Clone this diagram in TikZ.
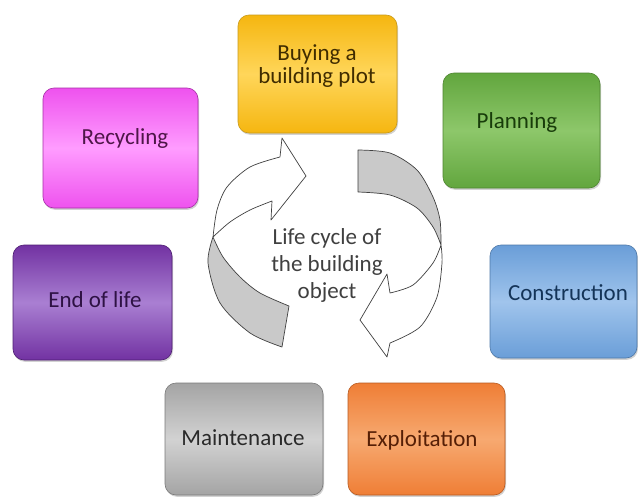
\documentclass[tikz,border=0pt]{standalone}
\usepackage{fontspec}
\setmainfont{Carlito}
\usetikzlibrary{shadows}
\definecolor{ytop}{HTML}{F5B610}\definecolor{ymid}{HTML}{FFD65A}\definecolor{ydark}{HTML}{C99A1A}\definecolor{ytxt}{HTML}{402C00}
\definecolor{gtop}{HTML}{62A63E}\definecolor{gmid}{HTML}{8DC76A}\definecolor{gdark}{HTML}{4E8530}\definecolor{gtxt}{HTML}{183C0A}
\definecolor{btop}{HTML}{6A9ED8}\definecolor{bmid}{HTML}{A0C4EC}\definecolor{bdark}{HTML}{4D78A8}\definecolor{btxt}{HTML}{143458}
\definecolor{otop}{HTML}{EF7E36}\definecolor{omid}{HTML}{F7A970}\definecolor{odark}{HTML}{B85A20}\definecolor{otxt}{HTML}{561F06}
\definecolor{mtop}{HTML}{A4A4A4}\definecolor{mmid}{HTML}{D2D2D2}\definecolor{mdark}{HTML}{7A7A7A}\definecolor{mtxt}{HTML}{2A2A2A}
\definecolor{ptop}{HTML}{7232A2}\definecolor{pmid}{HTML}{A97FD2}\definecolor{pdark}{HTML}{4E1E72}\definecolor{ptxt}{HTML}{2E1244}
\definecolor{rtop}{HTML}{EE52EE}\definecolor{rmid}{HTML}{FF9CFF}\definecolor{rdark}{HTML}{A52FA5}\definecolor{rtxt}{HTML}{4E1648}
\definecolor{arrgray}{HTML}{C9C9C9}\definecolor{arrline}{HTML}{404040}\definecolor{ctxt}{HTML}{404040}
\tikzset{
  cbox/.style={rectangle, rounded corners=11pt, line width=0.6pt,
    drop shadow={shadow xshift=1pt, shadow yshift=-1.8pt, opacity=0.35}},
  ybox/.style={cbox, top color=ytop, bottom color=ytop, middle color=ymid, draw=ydark},
  gbox/.style={cbox, top color=gtop, bottom color=gtop, middle color=gmid, draw=gdark},
  bbox/.style={cbox, top color=btop, bottom color=btop, middle color=bmid, draw=bdark},
  obox/.style={cbox, top color=otop, bottom color=otop, middle color=omid, draw=odark},
  mbox/.style={cbox, top color=mtop, bottom color=mtop, middle color=mmid, draw=mdark},
  pbox/.style={cbox, top color=ptop, bottom color=ptop, middle color=pmid, draw=pdark},
  rbox/.style={cbox, top color=rtop, bottom color=rtop, middle color=rmid, draw=rdark},
  btext/.style={align=center, font=\fontsize{23}{23}\selectfont, inner sep=0pt},
  arrw/.style={draw=arrline, line width=0.7pt, line join=round}
}
\begin{document}
\begin{tikzpicture}[x=1pt,y=-1pt]
\useasboundingbox[fill=white] (0,0) rectangle (638,498);
% boxes
\node[ybox, minimum width=159pt, minimum height=118pt] (buybox) at (317.5,74) {};
\node[gbox, minimum width=157pt, minimum height=115pt] (planbox) at (521.5,130.5) {};
\node[bbox, minimum width=147pt, minimum height=113pt] (consbox) at (563.5,301.5) {};
\node[obox, minimum width=157pt, minimum height=112pt] (explbox) at (426.5,439) {};
\node[mbox, minimum width=158pt, minimum height=112pt] (maintbox) at (244,439) {};
\node[pbox, minimum width=159pt, minimum height=115pt] (endbox) at (92.5,302.5) {};
\node[rbox, minimum width=155pt, minimum height=120pt] (recbox) at (120.5,148) {};
% texts
\node[btext, text=ytxt] (buy) at (317,66) {Buying a\\building plot};
\node[btext, text=gtxt] (plan) at (517,122) {Planning};
\node[btext, text=btxt] (cons) at (568,293) {Construction};
\node[btext, text=otxt] (expl) at (422,440) {Exploitation};
\node[btext, text=mtxt] (maint) at (243,438) {Maintenance};
\node[btext, text=ptxt] (eol) at (95,300) {End of life};
\node[btext, text=rtxt] (rec) at (125,138) {Recycling};
% circular arrows
\filldraw[arrw, fill=white] (272,201) -- (271,220) -- (306,176) -- (282,138) -- (280,157)
  -- plot[smooth] coordinates {(280,157) (250,167) (227,187) (217,210) (213,237)}
  -- plot[smooth] coordinates {(213,237) (230,222) (250,210) (272,201)} -- cycle;
\filldraw[arrw, fill=arrgray] (213,237)
  -- plot[smooth] coordinates {(213,237) (208,263) (220,303) (250,333) (282,347)}
  -- (289,306)
  -- plot[smooth] coordinates {(289,306) (260,293) (240,277) (223,257) (213,237)} -- cycle;
\filldraw[arrw, fill=arrgray] (358,150)
  -- plot[smooth] coordinates {(358,150) (390,153) (417,170) (433,197) (440,220) (441,245)}
  -- plot[smooth] coordinates {(441,245) (433,227) (417,208) (390,195) (358,192)} -- cycle;
\filldraw[arrw, fill=white] (441,245)
  -- plot[smooth] coordinates {(441,245) (442,263) (437,297) (420,327) (390,343)}
  -- (387,357) -- (360,320) -- (387,274) -- (390,293)
  -- plot[smooth] coordinates {(390,293) (413,285) (433,263) (441,245)} -- cycle;
% centre text
\node[align=center, text=ctxt, font=\fontsize{23}{27}\selectfont, inner sep=0pt] (centre) at (327,265) {Life cycle of\\the building\\object};
\end{tikzpicture}
\end{document}
